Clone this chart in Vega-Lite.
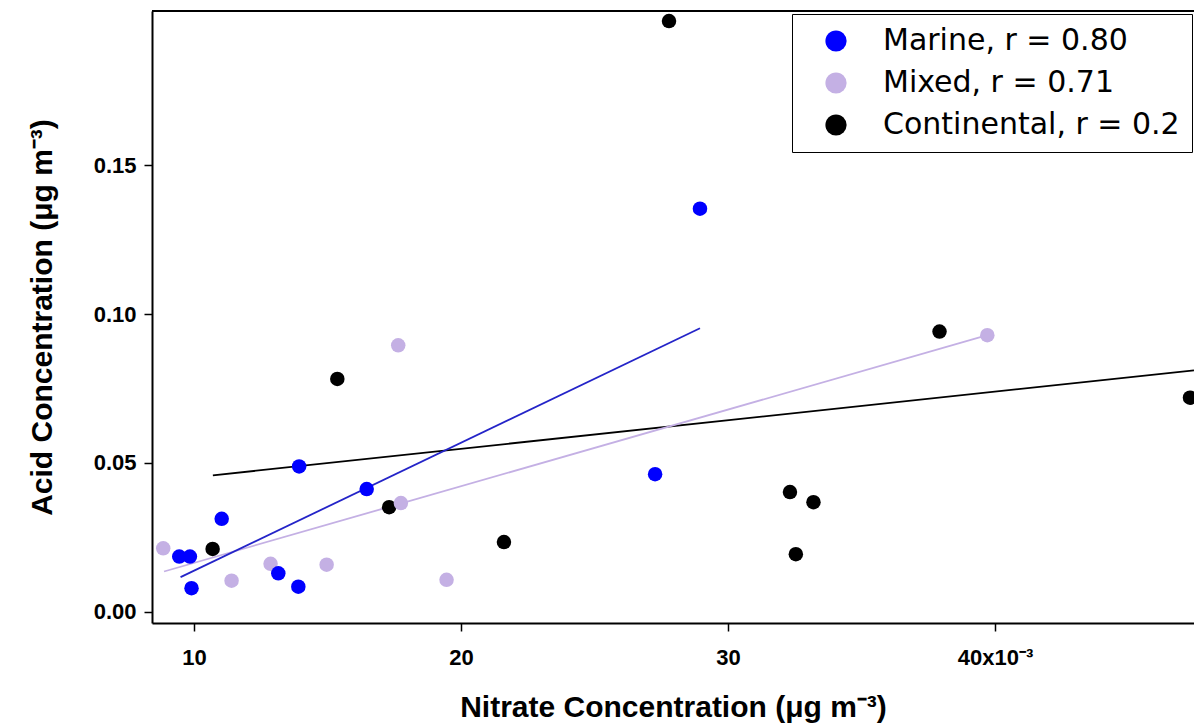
{
  "$schema": "https://vega.github.io/schema/vega-lite/v6.json",
  "width": 1042,
  "height": 612,
  "autosize": "none",
  "padding": {"left": 152, "top": 11, "right": 0, "bottom": 104},
  "background": "white",
  "config": {
    "view": {"stroke": null},
    "axis": {
      "grid": false,
      "domainColor": "black",
      "domainWidth": 2,
      "tickColor": "black",
      "tickWidth": 1.5,
      "tickSize": 8,
      "labelFont": "Liberation Sans, Arial",
      "labelFontWeight": "bold",
      "labelFontSize": 22,
      "labelColor": "black",
      "titleFont": "Liberation Sans, Arial",
      "titleFontWeight": "bold",
      "titleColor": "black"
    }
  },
  "datasets": {
    "points": [
      {"group": "Continental", "nitrate": 10.70, "acid": 0.0211},
      {"group": "Continental", "nitrate": 15.37, "acid": 0.0782},
      {"group": "Continental", "nitrate": 17.31, "acid": 0.0351},
      {"group": "Continental", "nitrate": 21.61, "acid": 0.0234},
      {"group": "Continental", "nitrate": 27.79, "acid": 0.1984},
      {"group": "Continental", "nitrate": 32.32, "acid": 0.0402},
      {"group": "Continental", "nitrate": 32.54, "acid": 0.0193},
      {"group": "Continental", "nitrate": 33.20, "acid": 0.0368},
      {"group": "Continental", "nitrate": 37.92, "acid": 0.0941},
      {"group": "Continental", "nitrate": 47.30, "acid": 0.0719},
      {"group": "Mixed", "nitrate": 8.85, "acid": 0.0213},
      {"group": "Mixed", "nitrate": 11.41, "acid": 0.0104},
      {"group": "Mixed", "nitrate": 12.87, "acid": 0.0161},
      {"group": "Mixed", "nitrate": 14.97, "acid": 0.0158},
      {"group": "Mixed", "nitrate": 17.65, "acid": 0.0895},
      {"group": "Mixed", "nitrate": 17.75, "acid": 0.0365},
      {"group": "Mixed", "nitrate": 19.46, "acid": 0.0107},
      {"group": "Mixed", "nitrate": 39.71, "acid": 0.0929},
      {"group": "Marine", "nitrate": 9.45, "acid": 0.0185},
      {"group": "Marine", "nitrate": 9.85, "acid": 0.0185},
      {"group": "Marine", "nitrate": 9.91, "acid": 0.0079},
      {"group": "Marine", "nitrate": 11.04, "acid": 0.0312},
      {"group": "Marine", "nitrate": 13.16, "acid": 0.0129},
      {"group": "Marine", "nitrate": 13.91, "acid": 0.0084},
      {"group": "Marine", "nitrate": 13.94, "acid": 0.0488},
      {"group": "Marine", "nitrate": 16.47, "acid": 0.0412},
      {"group": "Marine", "nitrate": 27.27, "acid": 0.0462},
      {"group": "Marine", "nitrate": 28.95, "acid": 0.1354}
    ],
    "fits": [
      {"group": "Marine", "nitrate": 9.50, "acid": 0.0116},
      {"group": "Marine", "nitrate": 28.95, "acid": 0.0952},
      {"group": "Mixed", "nitrate": 8.88, "acid": 0.0135},
      {"group": "Mixed", "nitrate": 39.71, "acid": 0.0929},
      {"group": "Continental", "nitrate": 10.71, "acid": 0.0458},
      {"group": "Continental", "nitrate": 47.45, "acid": 0.0811}
    ]
  },
  "layer": [
    {
      "data": {"values": [{}]},
      "mark": {"type": "rule", "color": "black", "strokeWidth": 2},
      "encoding": {
        "y": {"datum": 0.2018, "type": "quantitative"}
      }
    },
    {
      "data": {"name": "fits"},
      "transform": [{"filter": "datum.group == 'Continental'"}],
      "mark": {"type": "line", "strokeWidth": 1.8, "color": "#000000"},
      "encoding": {
        "x": {"field": "nitrate", "type": "quantitative"},
        "y": {"field": "acid", "type": "quantitative"}
      }
    },
    {
      "data": {"name": "fits"},
      "transform": [{"filter": "datum.group == 'Mixed'"}],
      "mark": {"type": "line", "strokeWidth": 1.8, "color": "#c4b0e4"},
      "encoding": {
        "x": {"field": "nitrate", "type": "quantitative"},
        "y": {"field": "acid", "type": "quantitative"}
      }
    },
    {
      "data": {"name": "fits"},
      "transform": [{"filter": "datum.group == 'Marine'"}],
      "mark": {"type": "line", "strokeWidth": 1.8, "color": "#2424c8"},
      "encoding": {
        "x": {"field": "nitrate", "type": "quantitative"},
        "y": {"field": "acid", "type": "quantitative"}
      }
    },
    {
      "data": {"name": "points"},
      "mark": {"type": "circle", "size": 210, "opacity": 1},
      "encoding": {
        "x": {
          "field": "nitrate",
          "type": "quantitative",
          "scale": {"domain": [8.43, 47.45], "nice": false, "zero": false},
          "axis": {
            "values": [10, 20, 30, 40],
            "labelPadding": 16,
            "labelExpr": "datum.value == 40 ? '40x10⁻³' : datum.label",
            "title": "Nitrate Concentration (μg m⁻³)",
            "titleFontSize": 30,
            "titlePadding": 24
          }
        },
        "y": {
          "field": "acid",
          "type": "quantitative",
          "scale": {"domain": [-0.0038, 0.2018], "nice": false, "zero": false},
          "axis": {
            "values": [0, 0.05, 0.1, 0.15],
            "format": ".2f",
            "labelPadding": 8,
            "title": "Acid Concentration (μg m⁻³)",
            "titleFontSize": 30,
            "titlePadding": 36
          }
        },
        "color": {
          "field": "group",
          "type": "nominal",
          "scale": {"domain": ["Marine", "Mixed", "Continental"], "range": ["#0000ff", "#c4b0e4", "#000000"]},
          "legend": {
            "title": null,
            "orient": "none",
            "legendX": 640,
            "legendY": 3,
            "fillColor": "white",
            "strokeColor": "black",
            "padding": 12,
            "symbolType": "circle",
            "symbolSize": 450,
            "symbolStrokeWidth": 0,
            "symbolOffset": 17,
            "labelOffset": 32,
            "labelFont": "DejaVu Sans",
            "labelFontSize": 30,
            "labelColor": "black",
            "labelLimit": 500,
            "rowPadding": 12,
            "labelExpr": "datum.label == 'Marine' ? 'Marine, r = 0.80' : datum.label == 'Mixed' ? 'Mixed, r = 0.71' : 'Continental, r = 0.2'"
          }
        }
      }
    }
  ]
}
